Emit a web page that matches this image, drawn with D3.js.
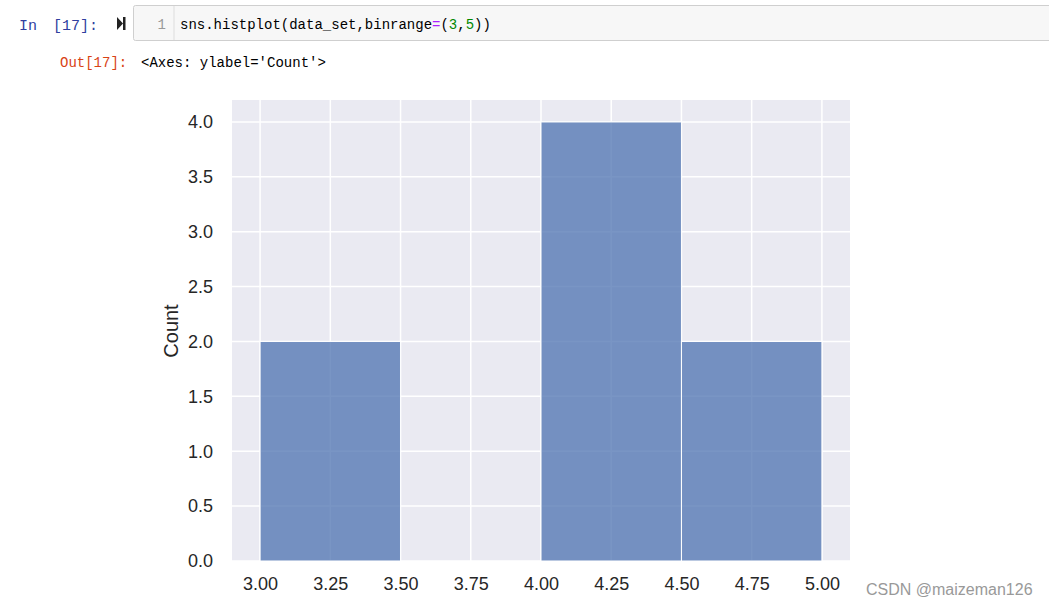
<!DOCTYPE html>
<html>
<head>
<meta charset="utf-8">
<script src="https://cdn.jsdelivr.net/npm/d3@7"></script>
<style>
  body { margin: 0; background: #fff; }
  svg { display: block; }
</style>
</head>
<body>
<div id="graf"></div>
<script>
// datos del histograma
var binEdges = [3.0, 3.5, 4.0, 4.5, 5.0];
var counts = [2, 0, 4, 2];
var xTicks = [3.0, 3.25, 3.5, 3.75, 4.0, 4.25, 4.5, 4.75, 5.0];
var yTicks = [0, 0.5, 1, 1.5, 2, 2.5, 3, 3.5, 4];
var codeParts = [
  { t: "sns.histplot(data_set,binrange", c: "#000" },
  { t: "=", c: "#aa22ff" },
  { t: "(", c: "#000" },
  { t: "3", c: "#008800" },
  { t: ",", c: "#000" },
  { t: "5", c: "#008800" },
  { t: "))", c: "#000" }
];

var bins = counts.map((c, i) => ({ x0: binEdges[i], x1: binEdges[i + 1], n: c }));

var svg = d3.select("#graf").append("svg")
  .attr("width", 1049).attr("height", 605);

// celda del notebook
var mono = "'Liberation Mono', 'DejaVu Sans Mono', monospace";
svg.append("text").attr("x", 19).attr("y", 30)
  .attr("font-family", mono).attr("font-size", 15).attr("fill", "#303f9f")
  .text("In");
svg.append("text").attr("x", 53).attr("y", 30)
  .attr("font-family", mono).attr("font-size", 15).attr("fill", "#303f9f")
  .text("[17]:");
svg.append("path")
  .attr("d", "M117,17 L123,23.5 L117,30 Z M123,17 h2.5 v13 h-2.5 Z")
  .attr("fill", "#222");
svg.append("rect").attr("x", 133.5).attr("y", 5.5).attr("width", 930).attr("height", 35)
  .attr("fill", "#f7f7f7").attr("stroke", "#cfcfcf").attr("rx", 2);
svg.append("line").attr("x1", 174).attr("x2", 174).attr("y1", 6).attr("y2", 40)
  .attr("stroke", "#dddddd");
svg.append("text").attr("x", 166).attr("y", 29).attr("text-anchor", "end")
  .attr("font-family", mono).attr("font-size", 14).attr("fill", "#999")
  .text("1");
var code = svg.append("text").attr("x", 180).attr("y", 29)
  .attr("font-family", mono).attr("font-size", 14);
codeParts.forEach(p => code.append("tspan").attr("fill", p.c).text(p.t));

svg.append("text").attr("x", 60).attr("y", 67)
  .attr("font-family", mono).attr("font-size", 14).attr("fill", "#d84315")
  .text("Out[17]:");
svg.append("text").attr("x", 141).attr("y", 67)
  .attr("font-family", mono).attr("font-size", 14).attr("fill", "#000")
  .text("<Axes: ylabel='Count'>");

// escaladores
var x = d3.scaleLinear().domain([2.9, 5.1]).range([232, 850]);
var y = d3.scaleLinear().domain([0, 4.2]).range([561, 100]);

var sans = "'Liberation Sans', Arial, sans-serif";

// fondo del area
svg.append("rect")
  .attr("x", x(2.9)).attr("y", y(4.2))
  .attr("width", x(5.1) - x(2.9)).attr("height", y(0) - y(4.2))
  .attr("fill", "#eaeaf2");

// rejilla
svg.append("g").selectAll("line").data(xTicks).join("line")
  .attr("x1", d => x(d)).attr("x2", d => x(d))
  .attr("y1", y(4.2)).attr("y2", y(0))
  .attr("stroke", "#fff").attr("stroke-width", 1.5);
svg.append("g").selectAll("line").data(yTicks).join("line")
  .attr("x1", x(2.9)).attr("x2", x(5.1))
  .attr("y1", d => y(d)).attr("y2", d => y(d))
  .attr("stroke", "#fff").attr("stroke-width", 1.5);

// barras
svg.append("g").selectAll("rect").data(bins.filter(b => b.n > 0)).join("rect")
  .attr("x", d => x(d.x0)).attr("width", d => x(d.x1) - x(d.x0))
  .attr("y", d => y(d.n)).attr("height", d => y(0) - y(d.n))
  .attr("fill", "#4c72b0").attr("fill-opacity", 0.75)
  .attr("stroke", "#fff").attr("stroke-width", 1);

// ejes
var xAxis = svg.append("g").attr("transform", `translate(0, ${y(0)})`)
  .call(d3.axisBottom(x).tickValues(xTicks).tickFormat(d3.format(".2f")).tickSize(0).tickPadding(16));
var yAxis = svg.append("g").attr("transform", `translate(${x(2.9)}, 0)`)
  .call(d3.axisLeft(y).tickValues(yTicks).tickFormat(d3.format(".1f")).tickSize(0).tickPadding(19));
[xAxis, yAxis].forEach(a => {
  a.select(".domain").remove();
  a.selectAll("text").attr("font-family", sans).attr("font-size", 18).attr("fill", "#262626");
});

svg.append("text")
  .attr("transform", "translate(178, 331) rotate(-90)")
  .attr("text-anchor", "middle")
  .attr("font-family", sans).attr("font-size", 20).attr("fill", "#262626")
  .text("Count");

// marca de agua
svg.append("text").attr("x", 866).attr("y", 595)
  .attr("font-family", sans).attr("font-size", 16).attr("fill", "#999")
  .text("CSDN @maizeman126");
</script>
</body>
</html>
